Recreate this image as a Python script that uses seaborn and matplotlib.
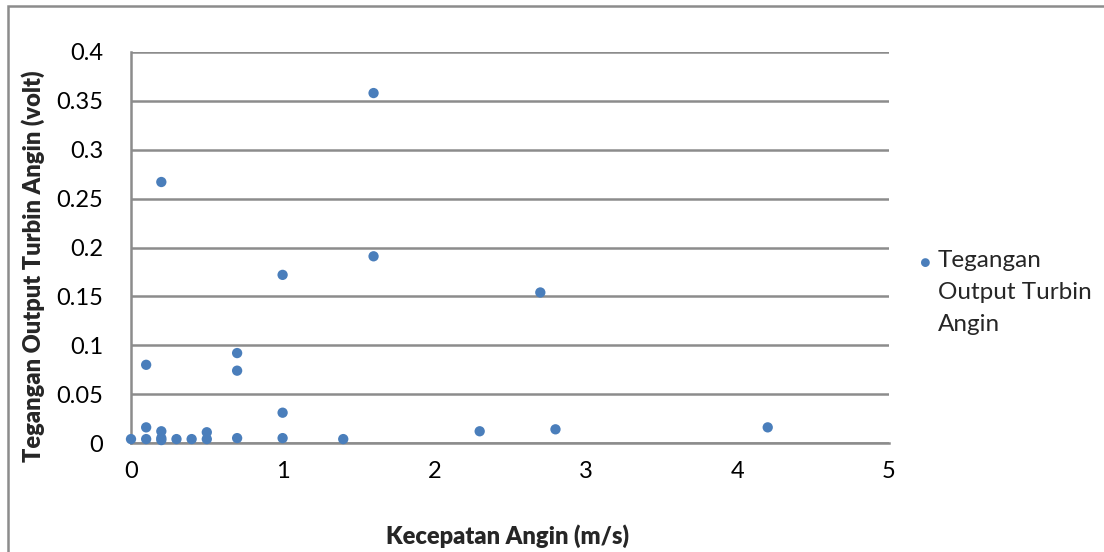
import matplotlib
matplotlib.use("Agg")
import matplotlib.pyplot as plt
import seaborn as sns
import pandas as pd
from matplotlib.patches import Rectangle

# Wind speed (m/s) and turbine output voltage (volt)
kecepatan = [0.0, 0.1, 0.1, 0.1, 0.2, 0.2, 0.2, 0.2, 0.3, 0.4, 0.5, 0.5,
             0.7, 0.7, 0.7, 1.0, 1.0, 1.0, 1.4, 1.6, 1.6, 2.3, 2.7, 2.8, 4.2]
tegangan = [0.004, 0.004, 0.016, 0.080, 0.003, 0.005, 0.012, 0.267, 0.004, 0.004, 0.004, 0.011,
            0.005, 0.074, 0.092, 0.005, 0.031, 0.172, 0.004, 0.191, 0.358, 0.012, 0.154, 0.014, 0.016]
x_ticks = [0, 1, 2, 3, 4, 5]
y_ticks = [0, 0.05, 0.1, 0.15, 0.2, 0.25, 0.3, 0.35, 0.4]
y_ticklabels = ["0", "0.05", "0.1", "0.15", "0.2", "0.25", "0.3", "0.35", "0.4"]
series_name = "Tegangan Output Turbin Angin"

df = pd.DataFrame({"x": kecepatan, "y": tegangan, "seri": series_name})

sns.set_style("white")
plt.rcParams["font.family"] = ["Lato", "DejaVu Sans"]

W, H = 1104, 552
fig = plt.figure(figsize=(W / 100, H / 100), dpi=100)
ax = fig.add_axes([131 / W, 1 - 443 / H, (889 - 131) / W, (443 - 52) / H])

blue = "#4a7ebb"
sns.scatterplot(data=df, x="x", y="y", hue="seri", palette=[blue], s=55,
                edgecolor="none", ax=ax, legend=False, clip_on=False, zorder=3)

ax.set_xlim(0, 5)
ax.set_ylim(0, 0.4)
ax.set_xticks(x_ticks)
ax.set_xticklabels([str(t) for t in x_ticks])
ax.set_yticks(y_ticks)
ax.set_yticklabels(y_ticklabels)
ax.tick_params(axis="both", length=0, labelsize=17, colors="black")
ax.tick_params(axis="x", pad=13)
ax.tick_params(axis="y", pad=20)
ax.yaxis.grid(True, color="#8c8c8c", linewidth=1.8)
ax.xaxis.grid(False)
ax.set_axisbelow(True)
for side in ["top", "right"]:
    ax.spines[side].set_visible(False)
for side in ["left", "bottom"]:
    ax.spines[side].set_color("#8c8c8c")
    ax.spines[side].set_linewidth(1.8)
ax.set_xlabel("")
ax.set_ylabel("")

# Axis titles
fig.text(507 / W, 1 - 536 / H, "Kecepatan Angin (m/s)", fontsize=17, fontweight="heavy",
         ha="center", va="center")
fig.text(33 / W, 1 - 266 / H, "Tegangan Output Turbin Angin (volt)", fontsize=17,
         fontweight="heavy", ha="center", va="center", rotation=90)

# Legend entry on the right
fig.text(925 / W, 1 - 263 / H, "\u25cf", color=blue, fontsize=13, ha="center", va="center")
fig.text(938 / W, 1 - 250 / H, "Tegangan\nOutput Turbin\nAngin", fontsize=17.5,
         ha="left", va="top", linespacing=1.66)

# Chart-area border
fig.patches.append(Rectangle((8 / W, -0.05), 1.2, 1 - 6 / H + 0.05, transform=fig.transFigure,
                             fill=False, edgecolor="#8c8c8c", linewidth=1.8))

fig.savefig("out.png", dpi=100, facecolor="white")
